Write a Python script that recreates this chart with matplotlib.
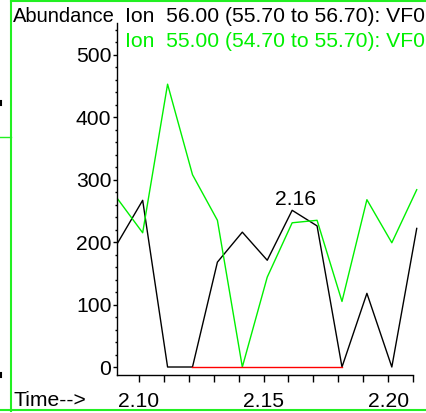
import matplotlib
matplotlib.use("Agg")
import matplotlib.pyplot as plt
from matplotlib.lines import Line2D
from matplotlib.ticker import MultipleLocator

plt.rcParams['font.family'] = ['Liberation Sans', 'DejaVu Sans']

# ---- data ----
times = [2.0915, 2.1015, 2.1115, 2.1215, 2.1315, 2.1415, 2.1515,
         2.1615, 2.1715, 2.1815, 2.1915, 2.2015, 2.2115]
ion56 = [199, 267, 0, 0, 168, 216, 171, 251, 226, 0, 118, 0, 222]
ion55 = [269, 215, 453, 308, 235, 0, 144, 231, 235, 105, 268, 199, 284]
baseline_times = [2.1215, 2.1815]
baseline_vals = [0, 0]
peak_label = "2.16"
peak_time = 2.1615
peak_value = 251
title56 = "Ion  56.00 (55.70 to 56.70): VF0"
title55 = "Ion  55.00 (54.70 to 55.70): VF0"
xticks = [2.10, 2.15, 2.20]
xticklabels = ["2.10", "2.15", "2.20"]
yticks = [0, 100, 200, 300, 400, 500]

W, H = 426, 413
FS = 15.2
GREEN = '#00f000'
fig = plt.figure(figsize=(W / 100, H / 100), dpi=100)

def fx(px):
    return px / W

def fy(py):
    return 1 - py / H

ax = fig.add_axes([fx(117), fy(375), fx(413) - fx(117), fy(23) - fy(375)])
ax.patch.set_alpha(0)

ax.plot(times, ion56, color='black', lw=1.0, clip_on=False)
ax.plot(times, ion55, color=GREEN, lw=1.0, clip_on=False)
ax.plot(baseline_times, baseline_vals, color='#ff0000', lw=1.0, clip_on=False)

ax.annotate(peak_label, xy=(peak_time, peak_value), xytext=(2.5, 3.5),
            textcoords='offset points', ha='center', va='baseline',
            fontsize=FS, color='black')

ax.set_xlim(2.0912, 2.2100)
ax.set_ylim(-12.8, 551)

for s in ['top', 'right']:
    ax.spines[s].set_visible(False)
for s in ['left', 'bottom']:
    ax.spines[s].set_linewidth(1.0)
    ax.spines[s].set_color('black')

ax.set_xticks(xticks)
ax.set_xticklabels(xticklabels)
ax.xaxis.set_minor_locator(MultipleLocator(0.01))
ax.set_yticks(yticks)
ax.yaxis.set_minor_locator(MultipleLocator(20))

ax.tick_params(axis='x', which='both', direction='out', length=5, width=1,
               labelsize=FS, pad=7.5)
ax.tick_params(axis='y', which='major', direction='out', length=3, width=1,
               labelsize=FS, pad=1)
ax.tick_params(axis='y', which='minor', direction='out', length=1.5, width=1)

# texts
fig.text(fx(13), fy(22), "Abundance", fontsize=14.5, ha='left', va='baseline')
fig.text(fx(125), fy(22), title56, fontsize=FS, ha='left', va='baseline', color='black')
fig.text(fx(125), fy(47), title55, fontsize=FS, ha='left', va='baseline', color=GREEN)
fig.text(fx(13), fy(406), "Time-->", fontsize=FS, ha='left', va='baseline')

# green frame and neighbouring artifacts
g = '#22f022'
fig.add_artist(Line2D([fx(11), fx(11)], [fy(0), fy(411)], color=g, lw=1.5))
fig.add_artist(Line2D([fx(11), fx(426)], [fy(1), fy(1)], color=g, lw=1.5))
fig.add_artist(Line2D([fx(0), fx(426)], [fy(410), fy(410)], color=g, lw=1.5))
fig.add_artist(Line2D([fx(0), fx(11)], [fy(137), fy(137)], color=g, lw=1.0))
fig.add_artist(Line2D([fx(1), fx(1)], [fy(101), fy(105)], color='black', lw=1.5))
fig.add_artist(Line2D([fx(1), fx(1)], [fy(373), fy(377)], color='black', lw=1.5))

fig.savefig("out.png", dpi=100)
